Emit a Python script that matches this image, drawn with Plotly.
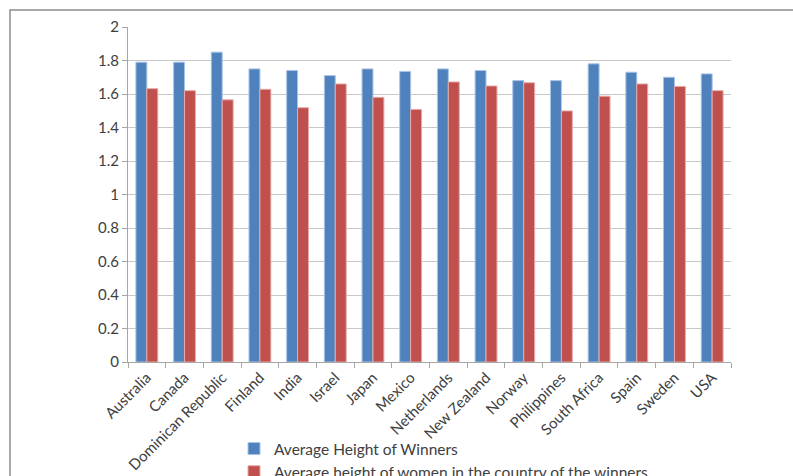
import plotly.graph_objects as go

countries = ["Australia", "Canada", "Dominican Republic", "Finland", "India", "Israel",
             "Japan", "Mexico", "Netherlands", "New Zealand", "Norway", "Philippines",
             "South Africa", "Spain", "Sweden", "USA"]
winners = [1.79, 1.79, 1.85, 1.75, 1.74, 1.71, 1.75, 1.735, 1.75, 1.74, 1.68, 1.68,
           1.78, 1.73, 1.70, 1.72]
women = [1.632, 1.62, 1.565, 1.628, 1.518, 1.66, 1.58, 1.508, 1.672, 1.648, 1.667, 1.499,
         1.587, 1.66, 1.645, 1.62]
yticks = [0, 0.2, 0.4, 0.6, 0.8, 1, 1.2, 1.4, 1.6, 1.8, 2]
series_names = ["Average Height of Winners",
                "Average height of women in the country of the winners"]

W, H = 793, 476
L, R, T, B = 128, 731, 27, 362

def px(x):
    return (x - L) / (R - L)

def py(y):
    return (B - y) / (B - T)

fam = "Lato, 'Open Sans', sans-serif"
xfont = dict(family=fam, size=15, color="#404040")
yfont = dict(family=fam, size=15, color="#404040")

fig = go.Figure()
fig.add_trace(go.Bar(x=countries, y=winners, name=series_names[0],
                     marker=dict(color="#4F81BD", line=dict(color="#A9C4E6", width=1))))
fig.add_trace(go.Bar(x=countries, y=women, name=series_names[1],
                     marker=dict(color="#C0504D", line=dict(color="#E6AAA8", width=1))))

fig.update_layout(
    width=W, height=H,
    margin=dict(l=L, r=W - R, t=T, b=H - B, pad=0, autoexpand=False),
    paper_bgcolor="white", plot_bgcolor="white",
    barmode="group", bargap=0.42, bargroupgap=0,
    font=dict(family=fam, size=15, color="#404040"),
    showlegend=True,
    legend=dict(orientation="v", x=px(234), y=py(432), xanchor="left", yanchor="top",
                font=dict(family=fam, size=15.5, color="#404040"),
                tracegroupgap=0, bgcolor="rgba(0,0,0,0)"),
    shapes=[dict(type="rect", xref="paper", yref="paper",
                 x0=px(10), x1=px(830), y0=py(10), y1=py(520),
                 line=dict(color="#8c8c8c", width=1.5), fillcolor="rgba(0,0,0,0)",
                 layer="below")],
)
fig.update_xaxes(type="category", tickangle=-45, showline=True, linecolor="#a6a6a6",
                 linewidth=1, ticks="outside", ticklen=5, tickcolor="#a6a6a6",
                 tickson="boundaries", showgrid=False, tickfont=xfont, automargin=False)
fig.update_yaxes(range=[0, 2], tickvals=yticks, ticktext=[f"{v:g}" for v in yticks],
                 showline=True, linecolor="#a6a6a6", linewidth=1, ticks="outside",
                 ticklen=5, tickcolor="#a6a6a6", showgrid=True, gridcolor="#c8c8c8",
                 gridwidth=1, zeroline=False, tickfont=yfont, automargin=False)

fig.write_html("out.html")
